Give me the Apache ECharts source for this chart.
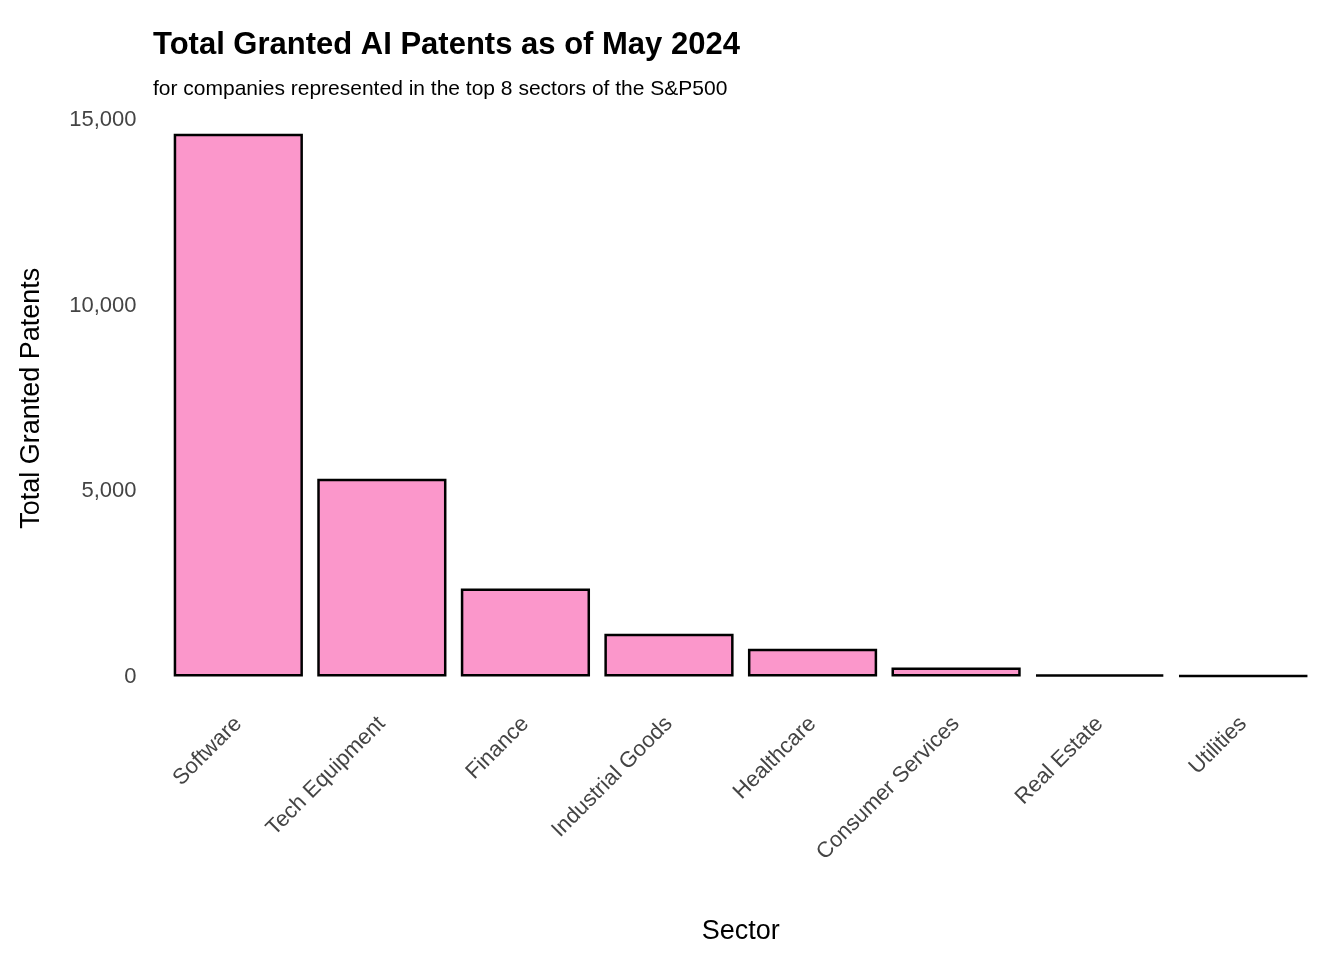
<!DOCTYPE html>
<html>
<head>
<script src="https://cdn.jsdelivr.net/npm/echarts@6/dist/echarts.min.js"></script>
<style>body{margin:0;background:#fff}#chart{width:1344px;height:960px}</style>
</head>
<body>
<div id="chart"></div>
<script>
const sectors = ['Software', 'Tech Equipment', 'Finance', 'Industrial Goods', 'Healthcare', 'Consumer Services', 'Real Estate', 'Utilities'];
const patents = [14630, 5330, 2370, 1150, 750, 240, 50, 20];
const yTicks = [0, 5000, 10000, 15000];

const chart = echarts.init(document.getElementById('chart'));
chart.setOption({
    animation: false,
    textStyle: { fontFamily: 'Liberation Sans, Arial, sans-serif' },
    title: [{
        text: 'Total Granted AI Patents as of May 2024',
        left: 148, top: 14,
        textStyle: { fontSize: 31, fontWeight: 'bold', color: '#000' }
    }, {
        text: 'for companies represented in the top 8 sectors of the S&P500',
        left: 148, top: 66,
        textStyle: { fontSize: 21, fontWeight: 'normal', color: '#000' }
    }],
    grid: { left: 163, right: 29, top: 120, bottom: 277 },
    xAxis: {
        type: 'category', data: sectors,
        name: 'Sector', nameLocation: 'middle', nameGap: 232,
        nameTextStyle: { fontSize: 27, color: '#000' },
        axisLine: { show: false }, axisTick: { show: false },
        axisLabel: { rotate: 45, fontSize: 22, color: '#444', margin: 44 }
    },
    yAxis: {
        type: 'value', min: 0, max: 15000, interval: 5000,
        name: 'Total Granted Patents', nameLocation: 'middle', nameGap: 112,
        nameTextStyle: { fontSize: 27, color: '#000' },
        splitLine: { show: false }, axisLine: { show: false }, axisTick: { show: false },
        axisLabel: { fontSize: 22, color: '#444', margin: 30,
            formatter: v => yTicks.includes(v) ? v.toLocaleString('en-US') : '' }
    },
    series: [{
        type: 'bar', data: patents, barWidth: '90%',
        itemStyle: { color: '#fb97cb', borderColor: '#000', borderWidth: 2.5 }
    }]
});
</script>
</body>
</html>
